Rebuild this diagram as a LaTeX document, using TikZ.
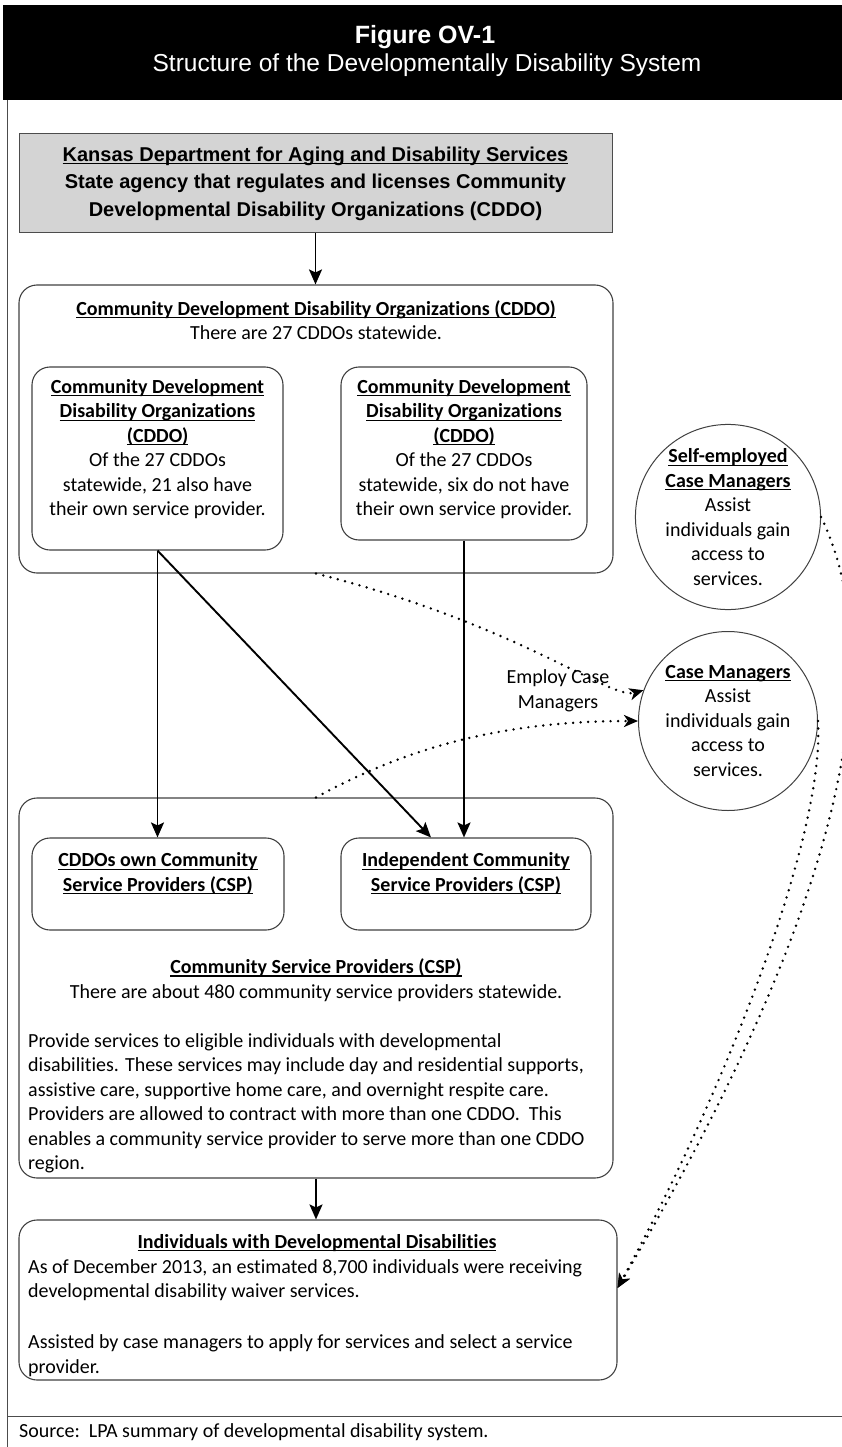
\documentclass[tikz,border=0pt]{standalone}
\usepackage{fontspec}
\setmainfont{Carlito}[Ligatures={NoCommon,NoContextual}, Contextuals=NoAlternate]
\newfontfamily\arialfont{Liberation Sans}
\usetikzlibrary{arrows.meta}
\newcommand\ulx[1]{\setbox0\hbox{#1}\rlap{\rule[-3pt]{\wd0}{1.1pt}}\box0}
\tikzset{
  box/.style={draw=black!75, line width=1.1pt, rounded corners=18pt, inner sep=0pt},
  body/.style={font=\fontsize{20}{24.5}\selectfont, inner sep=0pt, align=center},
  bodyl/.style={font=\fontsize{20}{24.5}\selectfont, inner sep=0pt, align=left},
  arr/.style={line width=1.9pt, -{Stealth[length=15pt,width=13pt,inset=3pt]}},
  dots/.style={line width=2.7pt, line cap=round, dash pattern=on 0pt off 7.5pt, -{Stealth[length=14pt,width=12pt,inset=4pt]}},
  circnode/.style={circle, draw=black!75, line width=1pt, inner sep=0pt, align=center, font=\fontsize{20}{24.5}\selectfont},
}
\begin{document}
\begin{tikzpicture}[x=1pt,y=-1pt]
\useasboundingbox (0,0) rectangle (842,1447);
% header
\fill[black] (3,5) rectangle (842,100);
\node[font=\arialfont\bfseries\fontsize{25}{30}\selectfont, text=white, inner sep=0pt] (title) at (425,37) {Figure OV-1};
\node[font=\arialfont\fontsize{24.5}{29}\selectfont, text=white, inner sep=0pt] (subtitle) at (427,65) {Structure of the Developmentally Disability System};
% frame
\draw[black!70, line width=1pt] (7,100) -- (7,1447);
\draw[black!70, line width=1pt] (7,1416) -- (842,1416);
\node[anchor=west, font=\fontsize{20}{24.5}\selectfont, inner sep=0pt] (source) at (19,1432) {Source:\hspace{9pt}LPA summary of developmental disability system.};
% Kansas box
\node[draw=black!70, fill=black!17, line width=1pt, minimum width=593, minimum height=99, inner sep=0pt, align=center,
  font=\arialfont\bfseries\fontsize{20}{27.5}\selectfont] (kdads) at (315.5,183.5)
  {\ulx{Kansas Department for Aging and Disability Services}\\State agency that regulates and licenses Community\\Developmental Disability Organizations (CDDO)};
% CDDO outer box
\node[box, minimum width=594, minimum height=288] (cddo) at (316,429) {};
\node[body] (cddotxt) at (316,320) {\textbf{\ulx{Community Development Disability Organizations (CDDO)}}\\There are 27 CDDOs statewide.};
\node[box, minimum width=251, minimum height=183] (lin) at (157.5,458.5) {};
\node[body] (lintxt) at (157.5,449) {\textbf{\ulx{Community Development}}\\\textbf{\ulx{Disability Organizations}}\\\textbf{\ulx{(CDDO)}}\\Of the 27 CDDOs\\statewide, 21 also have\\their own service provider.};
\node[box, minimum width=246, minimum height=173] (rin) at (464,453.5) {};
\node[body] (rintxt) at (464,449) {\textbf{\ulx{Community Development}}\\\textbf{\ulx{Disability Organizations}}\\\textbf{\ulx{(CDDO)}}\\Of the 27 CDDOs\\statewide, six do not have\\their own service provider.};
% circles
\node[circnode, minimum size=181] (se) at (728,517) {\textbf{\ulx{Self-employed}}\\\textbf{\ulx{Case Managers}}\\Assist\\individuals gain\\access to\\services.};
\node[circnode, minimum size=179] (cmg) at (728,721) {\textbf{\ulx{Case Managers}}\\Assist\\individuals gain\\access to\\services.};
\node[body] (employ) at (558,691) {Employ Case\\Managers};
% CSP outer box
\node[box, minimum width=594, minimum height=380] (csp) at (316,988) {};
\node[box, minimum width=252, minimum height=92] (cspl) at (158,884) {};
\node[body] (cspltxt) at (158,873.5) {\textbf{\ulx{CDDOs own Community}}\\\textbf{\ulx{Service Providers (CSP)}}};
\node[box, minimum width=250, minimum height=92] (cspr) at (466,884) {};
\node[body] (csprtxt) at (466,873.5) {\textbf{\ulx{Independent Community}}\\\textbf{\ulx{Service Providers (CSP)}}};
\node[body] (csptxt) at (316,980) {\textbf{\ulx{Community Service Providers (CSP)}}\\There are about 480 community service providers statewide.};
\node[bodyl, anchor=west] (csppar) at (28,1103.5) {Provide services to eligible individuals with developmental\\disabilities. These services may include day and residential supports,\\assistive care, supportive home care, and overnight respite care.\\Providers are allowed to contract with more than one CDDO.\ \ This\\enables a community service provider to serve more than one CDDO\\region.};
% Individuals box
\node[box, minimum width=598, minimum height=160] (ind) at (318,1300) {};
\node[body] (indtitle) at (317,1243) {\textbf{\ulx{Individuals with Developmental Disabilities}}};
\node[bodyl, anchor=west] (indp1) at (28,1280) {As of December 2013, an estimated 8,700 individuals were receiving\\developmental disability waiver services.};
\node[bodyl, anchor=west] (indp2) at (28,1355.5) {Assisted by case managers to apply for services and select a service\\provider.};
% solid arrows
\draw[arr] (kdads.south) -- (kdads.south |- cddo.north);
\draw[arr] (lin.south) -- (lin.south |- cspl.north);
\draw[arr] (lin.south) -- ([xshift=-35pt]cspr.north);
\draw[arr] (rin.south) -- (rin.south |- cspr.north);
\draw[arr] (csp.south) -- (csp.south |- ind.north);
% dotted connectors
\draw[dots] (cddo.south) .. controls (520,625) and (610,700) .. (cmg.160);
\draw[dots] (csp.north) .. controls (420,740) and (520,721) .. (cmg.west);
\draw[dots] (se.east) .. controls (880,640) and (870,860) .. ([yshift=12pt]ind.east);
\draw[dots] (cmg.east) .. controls (825,840) and (720,1100) .. ([yshift=12pt]ind.east);
\end{tikzpicture}
\end{document}
